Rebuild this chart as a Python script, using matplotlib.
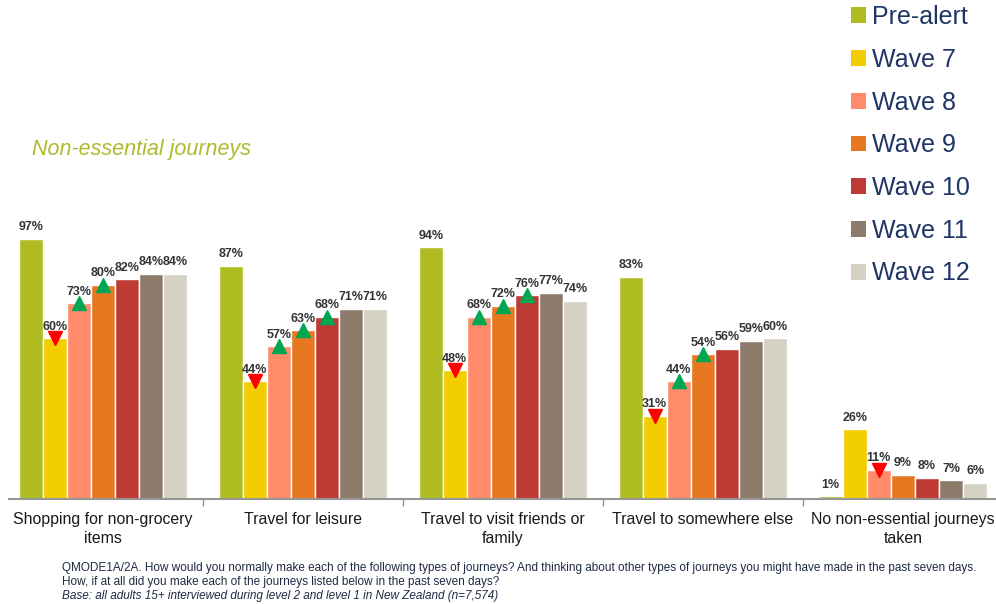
import numpy as np
import matplotlib
matplotlib.use('Agg')
import matplotlib.pyplot as plt
from matplotlib.patches import Patch

plt.rcParams['font.family'] = ['Liberation Sans', 'DejaVu Sans']

# data
categories = ["Shopping for non-grocery\nitems", "Travel for leisure",
              "Travel to visit friends or\nfamily", "Travel to somewhere else",
              "No non-essential journeys\ntaken"]
waves = ["Pre-alert", "Wave 7", "Wave 8", "Wave 9", "Wave 10", "Wave 11", "Wave 12"]
pre_alert = [97, 87, 94, 83, 1]
wave7 = [60, 44, 48, 31, 26]
wave8 = [73, 57, 68, 44, 11]
wave9 = [80, 63, 72, 54, 9]
wave10 = [82, 68, 76, 56, 8]
wave11 = [84, 71, 77, 59, 7]
wave12 = [84, 71, 74, 60, 6]
# significance vs previous wave: 'up', 'down' or None
sig7 = ['down', 'down', 'down', 'down', None]
sig8 = ['up', 'up', 'up', 'up', 'down']
sig9 = ['up', 'up', 'up', 'up', None]
sig10 = [None, 'up', 'up', None, None]
none5 = [None] * 5

series = [pre_alert, wave7, wave8, wave9, wave10, wave11, wave12]
sigs = [none5, sig7, sig8, sig9, sig10, none5, none5]
colors = ['#AFBD22', '#F2CD00', '#FF8B6A', '#E87722', '#BE3A34', '#8C7B6B', '#D5D2C4']

fig = plt.figure(figsize=(9.96, 6.04), dpi=100)
ax = fig.add_axes([3 / 996, 105 / 604, 1000 / 996, 268 / 604])

x = np.arange(len(categories))
pitch = 0.1205
for i, (vals, sg, c) in enumerate(zip(series, sigs, colors)):
    xs = x + (i - 3) * pitch
    ax.bar(xs, vals, width=pitch, color=c, edgecolor='white', linewidth=1.0, zorder=2)
    for xi, v, s in zip(xs, vals, sg):
        ax.annotate(f"{v}%", (xi, v), xytext=(0, 4), textcoords='offset points',
                    ha='center', va='bottom', fontsize=9, fontweight='bold',
                    color='#333333', annotation_clip=False)
        if s == 'up':
            ax.plot(xi, v, marker='^', color='#00A651', markersize=9.5, clip_on=False, zorder=4)
        elif s == 'down':
            ax.plot(xi, v, marker='v', color='#FF0000', markersize=9.5, clip_on=False, zorder=4)

ax.set_xlim(-0.5, 4.5)
ax.set_ylim(0, 100)
for sp in ['top', 'left', 'right']:
    ax.spines[sp].set_visible(False)
ax.spines['bottom'].set_color('#969696')
ax.spines['bottom'].set_linewidth(1.5)
ax.spines['bottom'].set_bounds(-0.47, 4.5)
ax.set_yticks([])
ax.set_xticks(x)
ax.set_xticklabels(categories, fontsize=11.4, color='#1a1a1a', linespacing=1.3)
ax.tick_params(axis='x', which='major', length=0, pad=9.5)
ax.set_xticks(x[:-1] + 0.5, minor=True)
ax.tick_params(axis='x', which='minor', length=5, width=1, color='#969696', direction='out')

fig.text(32 / 996, 1 - 150 / 604, "Non-essential journeys", fontsize=15.5, style='italic',
         color='#AEBB2B', va='center', ha='left')

handles = [Patch(facecolor=c, edgecolor='none') for c in colors]
leg = fig.legend(handles, waves, loc='upper left', bbox_to_anchor=(851 / 996, 1 - 5 / 604),
                 frameon=False, fontsize=18, handlelength=0.6, handleheight=0.6,
                 handletextpad=0.25, labelspacing=0.75, borderpad=0, borderaxespad=0)
for t in leg.get_texts():
    t.set_color('#1F3566')

foot = '#1f2a44'
fig.text(62 / 996, 1 - 568 / 604,
         "QMODE1A/2A. How would you normally make each of the following types of journeys? "
         "And thinking about other types of journeys you might have made in the past seven days.",
         fontsize=8.45, color=foot, va='center')
fig.text(62 / 996, 1 - 582 / 604,
         "How, if at all did you make each of the journeys listed below in the past seven days?",
         fontsize=8.45, color=foot, va='center')
fig.text(62 / 996, 1 - 596 / 604,
         "Base: all adults 15+ interviewed during level 2 and level 1 in New Zealand (n=7,574)",
         fontsize=8.45, color=foot, va='center', style='italic')

fig.savefig('out.png', dpi=100)
